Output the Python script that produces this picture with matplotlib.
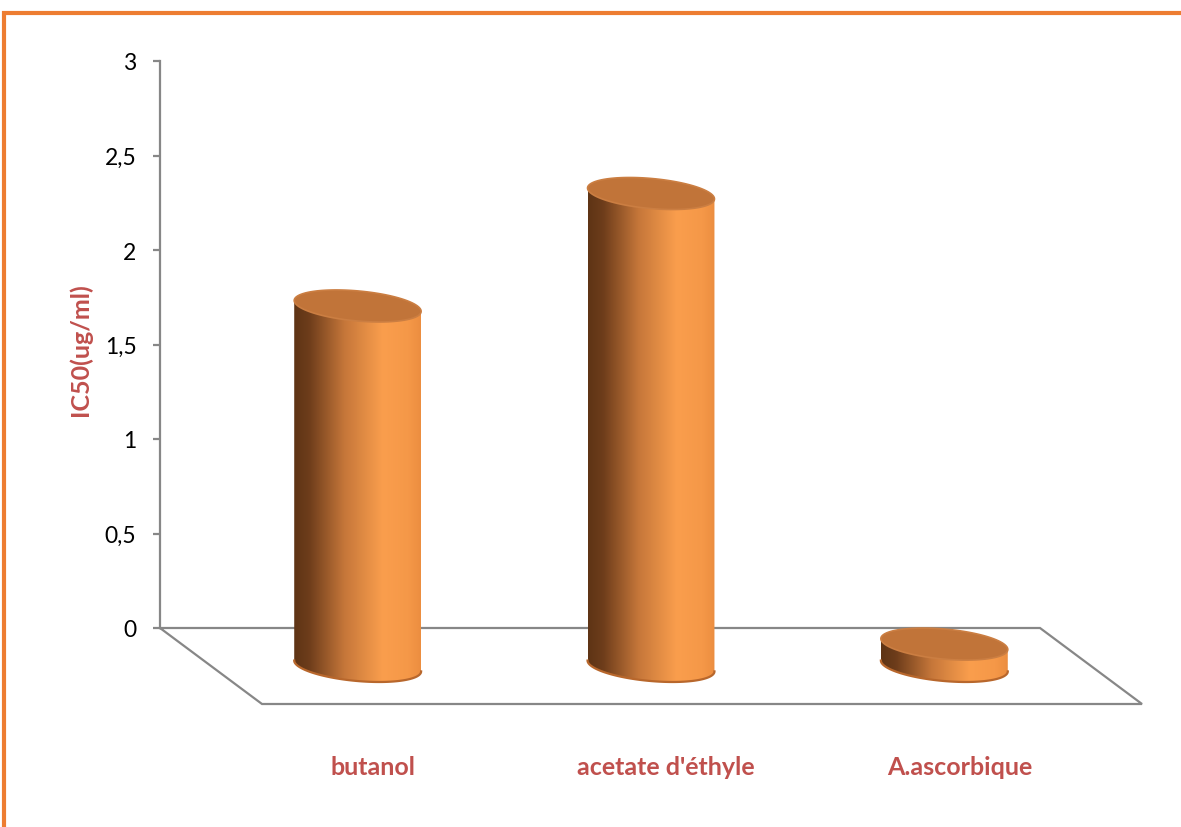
import numpy as np
import matplotlib
matplotlib.use("Agg")
import matplotlib.pyplot as plt
from matplotlib.lines import Line2D
from matplotlib.patches import Polygon
from matplotlib.colors import LinearSegmentedColormap

# IC50 values (ug/ml)
categories = ["butanol", "acetate d'éthyle", "A.ascorbique"]
ic50 = [1.905, 2.50, 0.116]
y_ticks = [0, 0.5, 1, 1.5, 2, 2.5, 3]
y_tick_labels = ["0", "0,5", "1", "1,5", "2", "2,5", "3"]

W, H = 1181, 828
fig = plt.figure(figsize=(W / 100, H / 100), dpi=100)
ax = fig.add_axes([0, 0, 1, 1])

# back wall: x from 160px to 1040px (3 categories), y=0 at 629px, y=3 at 62px
px_per_cat = 880 / 3
px_per_val = 567 / 3
ax.set_xlim((0 - 160) / px_per_cat, (W - 160) / px_per_cat)
ax.set_ylim((629 - H) / px_per_val, 629 / px_per_val)

# oblique depth of the floor (category units, value units)
depth_x = 102 / px_per_cat
depth_y = -76 / px_per_val

axis_grey = "#878787"
label_red = "#C0504D"
font = ["Lato", "DejaVu Sans"]

# vertical value axis on the back wall
for s in ["top", "right", "bottom"]:
    ax.spines[s].set_visible(False)
ax.spines["left"].set_position(("data", 0))
ax.spines["left"].set_bounds(0, 3)
ax.spines["left"].set_color(axis_grey)
ax.spines["left"].set_linewidth(1.6)
ax.set_yticks(y_ticks)
ax.set_yticklabels(y_tick_labels, fontfamily=font, fontsize=16.5)
ax.tick_params(axis="y", direction="out", length=5, width=1.6, color=axis_grey,
               pad=12, labelcolor="black")
ax.set_xticks([])

# floor outline
n = len(categories)
floor_x = [0, n, n + depth_x, depth_x, 0]
floor_y = [0, 0, depth_y, depth_y, 0]
ax.plot(floor_x, floor_y, color=axis_grey, lw=1.6, solid_joinstyle="miter", zorder=1)

# cylinders
shade = LinearSegmentedColormap.from_list(
    "cyl",
    [(0.0, "#5E3415"), (0.12, "#6E3D1B"), (0.40, "#C6773A"),
     (0.70, "#FA9E4D"), (0.90, "#F59848"), (1.0, "#EC8E40")])
grad = np.linspace(0, 1, 256)[None, :]

ux = 59.7 / px_per_cat        # half width along the front axis
wx = 21.5 / px_per_cat        # depth radius, horizontal part
wy = -16.0 / px_per_val       # depth radius, vertical part
t0 = np.arctan2(wx, ux)


def ellipse(cx, cy, t):
    return np.column_stack([cx + ux * np.cos(t) + wx * np.sin(t),
                            cy + wy * np.sin(t)])


for i, v in enumerate(ic50):
    cx = i + 0.5 + depth_x / 2
    base = depth_y / 2
    top = base + v
    front = ellipse(cx, base, np.linspace(t0 + np.pi, t0, 120))
    back_top = ellipse(cx, top, np.linspace(t0, t0 - np.pi, 120))
    body = np.vstack([front, back_top])
    body_patch = Polygon(body, closed=True, facecolor="none", edgecolor="none")
    ax.add_patch(body_patch)
    x0, x1 = body[:, 0].min(), body[:, 0].max()
    y0, y1 = body[:, 1].min(), body[:, 1].max()
    im = ax.imshow(grad, cmap=shade, extent=[x0, x1, y0, y1], aspect="auto",
                   interpolation="bilinear", zorder=2)
    im.set_clip_path(body_patch)
    # rim along the bottom edge
    ax.plot(front[:, 0], front[:, 1], color="#B8672C", lw=1.6, zorder=3)
    # top face
    top_face = ellipse(cx, top, np.linspace(0, 2 * np.pi, 200))
    ax.add_patch(Polygon(top_face, closed=True, facecolor="#C17439",
                         edgecolor="#CB7E42", lw=1.2, zorder=4))

ax.set_xlim((0 - 160) / px_per_cat, (W - 160) / px_per_cat)
ax.set_ylim((629 - H) / px_per_val, 629 / px_per_val)

# category labels under the floor
label_y = (629 - 768) / px_per_val
for i, name in enumerate(categories):
    ax.text(i + 0.725, label_y, name, ha="center", va="center", color=label_red,
            fontsize=18, fontweight="bold", fontfamily=font)

# value-axis title
ax.text((80 - 160) / px_per_cat, (629 - 350) / px_per_val, "IC50(ug/ml)",
        rotation=90, ha="center", va="center", color=label_red, fontsize=18,
        fontweight="bold", fontfamily=font)

# chart frame
fig.add_artist(Line2D([4 / W, 4 / W, 1.0], [0.0, 1 - 13.5 / H, 1 - 13.5 / H],
                      transform=fig.transFigure, color="#ED7D31", lw=3.0,
                      solid_joinstyle="miter"))

fig.savefig("out.png", dpi=100)
